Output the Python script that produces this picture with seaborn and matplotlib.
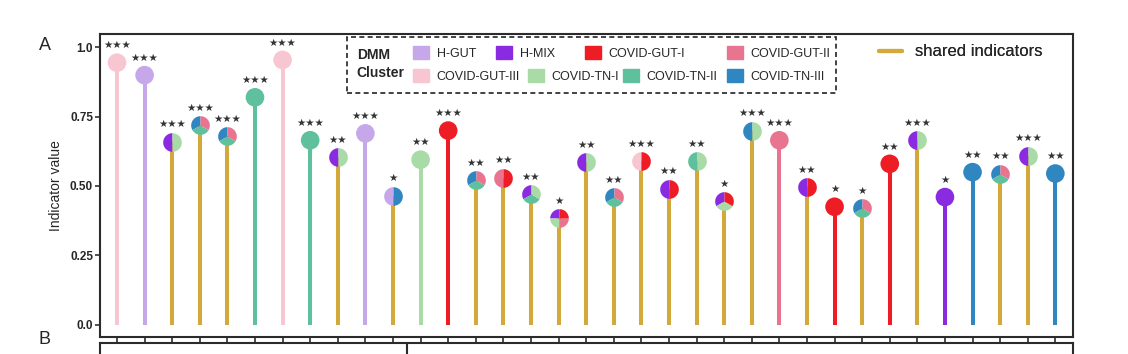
import numpy as np
import pandas as pd
import matplotlib
matplotlib.use("Agg")
import matplotlib.pyplot as plt
from matplotlib.patches import Patch, Rectangle
from matplotlib.lines import Line2D
import seaborn as sns

# DMM clusters and their colours
clusters = ["H-GUT", "H-MIX", "COVID-GUT-I", "COVID-GUT-II",
            "COVID-GUT-III", "COVID-TN-I", "COVID-TN-II", "COVID-TN-III"]
cluster_colors = ["#C6A8EA", "#8A2BE2", "#EE1C25", "#E8748F",
                  "#F8C6D1", "#A9DBA6", "#5EC09C", "#2F86C0"]
shared_color = "#D3A93C"

# indicator values (left to right)
values = [0.945, 0.90, 0.66, 0.72, 0.68, 0.82, 0.955, 0.665, 0.605, 0.69,
          0.465, 0.595, 0.70, 0.52, 0.53, 0.47, 0.385, 0.585, 0.46, 0.59,
          0.49, 0.59, 0.445, 0.70, 0.665, 0.495, 0.425, 0.42, 0.58, 0.665,
          0.46, 0.55, 0.545, 0.61, 0.545]
stars = [3, 3, 3, 3, 3, 3, 3, 3, 2, 3, 1, 2, 3, 2, 2, 2, 1, 2, 2, 3,
         2, 2, 1, 3, 3, 2, 1, 1, 2, 3, 1, 2, 2, 3, 2]
# clusters in each head, counter-clockwise from 12 o'clock
heads = [
    ["COVID-GUT-III"], ["H-GUT"], ["H-MIX", "COVID-TN-I"],
    ["COVID-TN-III", "COVID-TN-II", "COVID-GUT-II"],
    ["COVID-TN-III", "COVID-TN-II", "COVID-GUT-II"],
    ["COVID-TN-II"], ["COVID-GUT-III"], ["COVID-TN-II"],
    ["H-MIX", "COVID-TN-I"], ["H-GUT"], ["H-GUT", "COVID-TN-III"],
    ["COVID-TN-I"], ["COVID-GUT-I"],
    ["COVID-TN-III", "COVID-TN-II", "COVID-GUT-II"],
    ["COVID-GUT-II", "COVID-GUT-I"],
    ["H-MIX", "COVID-TN-II", "COVID-TN-I"],
    ["H-MIX", "COVID-TN-I", "COVID-GUT-II", "COVID-GUT-I"],
    ["H-MIX", "COVID-TN-I"],
    ["COVID-TN-III", "COVID-TN-II", "COVID-GUT-II"],
    ["COVID-GUT-III", "COVID-GUT-I"], ["H-MIX", "COVID-GUT-I"],
    ["COVID-TN-II", "COVID-TN-I"], ["H-MIX", "COVID-TN-I", "COVID-GUT-I"],
    ["COVID-TN-III", "COVID-TN-I"], ["COVID-GUT-II"],
    ["H-MIX", "COVID-GUT-I"], ["COVID-GUT-I"],
    ["COVID-TN-III", "COVID-TN-II", "COVID-GUT-II"],
    ["COVID-GUT-I"], ["H-MIX", "COVID-TN-I"], ["H-MIX"], ["COVID-TN-III"],
    ["COVID-TN-III", "COVID-TN-II", "COVID-GUT-II"],
    ["H-MIX", "COVID-TN-I"], ["COVID-TN-III"],
]

palette = dict(zip(clusters, cluster_colors))
df = pd.DataFrame({"pos": np.arange(len(values)), "value": values,
                   "stars": stars, "n": [len(h) for h in heads],
                   "cluster": [h[0] for h in heads]})
df["stem"] = [palette[h[0]] if len(h) == 1 else shared_color for h in heads]

sns.set_theme(style="ticks")
plt.rcParams["font.family"] = ["Liberation Sans", "DejaVu Sans"]


def wedge(a0, a1):
    t = np.radians(np.linspace(a0, a1, 60))
    return np.column_stack([np.r_[0, np.cos(t), 0], np.r_[0, np.sin(t), 0]])


fig = plt.figure(figsize=(11.28, 3.54), dpi=100)
ax = fig.add_axes([100 / 1128, 17 / 354, 973 / 1128, 303 / 354])

# stems
ax.vlines(df["pos"], 0, df["value"], colors=df["stem"], lw=2.9, zorder=1)

# single-cluster heads
single = df[df["n"] == 1]
sns.scatterplot(data=single, x="pos", y="value", hue="cluster", palette=palette,
                s=180, linewidth=0, legend=False, ax=ax, zorder=3)

# shared heads as small pies
for i, h in enumerate(heads):
    if len(h) < 2:
        continue
    step = 360 / len(h)
    for k, c in enumerate(h):
        a0 = 90 + k * step
        ax.scatter([i], [values[i]], marker=wedge(a0, a0 + step), s=180,
                   color=palette[c], linewidths=0, zorder=3)

# significance stars
for i, (v, n) in enumerate(zip(values, stars)):
    ax.annotate("\u2605" * n, (i, v), xytext=(0, 12.5), textcoords="offset points",
                ha="center", va="center", fontsize=7.5, color="#333333",
                family="DejaVu Sans")

ax.set_xlim(-0.616, 34.64)
ax.set_ylim(-0.045, 1.0486)
ax.set_xticks([])
ax.set_yticks([0, 0.25, 0.5, 0.75, 1.0])
ax.set_yticklabels(["0.0", "0.25", "0.50", "0.75", "1.0"])
ax.tick_params(axis="y", length=3.5, width=1.2, color="#333333", pad=1.5,
               labelsize=8.5)
for t in ax.get_yticklabels():
    t.set_fontweight("bold")
ax.set_xlabel("")
ax.set_ylabel("Indicator value", fontsize=10, labelpad=5)
for sp in ax.spines.values():
    sp.set_visible(True)
    sp.set_linewidth(1.5)
    sp.set_color("#2b2b2b")

# dashed legend box for DMM clusters
ax.add_patch(Rectangle((0.2539, 0.805), 0.5025, 0.185, transform=ax.transAxes,
                       fill=False, ls=(0, (3, 2)), lw=1.2, ec="#222222", zorder=5))
ax.text(0.264, 0.931, "DMM", transform=ax.transAxes, fontsize=10,
        fontweight="bold", va="center", ha="left")
ax.text(0.264, 0.871, "Cluster", transform=ax.transAxes, fontsize=10,
        fontweight="bold", va="center", ha="left")

legend_pos = [(0.3217, 0.937), (0.4070, 0.937), (0.4985, 0.937), (0.6444, 0.937),
              (0.3217, 0.861), (0.4399, 0.861), (0.5375, 0.861), (0.6444, 0.861)]
for c, (lx, ly) in zip(clusters, legend_pos):
    leg = ax.legend(handles=[Patch(color=palette[c], label=c)], loc="center left",
                    bbox_to_anchor=(lx, ly), bbox_transform=ax.transAxes,
                    frameon=False, fontsize=9, borderpad=0, borderaxespad=0,
                    handlelength=1.28, handleheight=1.2, handletextpad=0.6)
    ax.add_artist(leg)

leg = ax.legend(handles=[Line2D([], [], color=shared_color, lw=3,
                                label="shared indicators")],
                loc="center left", bbox_to_anchor=(0.8006, 0.9406),
                bbox_transform=ax.transAxes, frameon=False, fontsize=12,
                borderpad=0, borderaxespad=0, handlelength=1.38,
                handletextpad=0.78)
ax.add_artist(leg)

# top edge of panel B
axb = fig.add_axes([100 / 1128, -0.1, 973 / 1128, 11 / 354 + 0.1])
axb.set_xlim(ax.get_xlim())
axb.set_ylim(0, 1)
axb.set_xticks(df["pos"])
axb.set_xticklabels([])
axb.set_yticks([])
axb.tick_params(axis="x", top=True, bottom=False, direction="out", length=4.3,
                width=1.2, color="#2b2b2b")
axb.axvline(10.5, color="#2b2b2b", lw=1.5)
for sp in axb.spines.values():
    sp.set_linewidth(1.5)
    sp.set_color("#2b2b2b")

fig.text(45 / 1128, 1 - 45 / 354, "A", fontsize=13, ha="center", va="center")
fig.text(45 / 1128, 1 - 340 / 354, "B", fontsize=13, ha="center", va="center")

fig.savefig("out.png", dpi=100)
